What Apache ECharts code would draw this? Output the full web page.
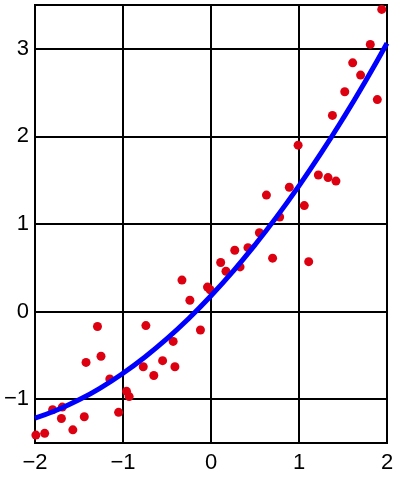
<!DOCTYPE html><html><head><meta charset="utf-8"><script src="https://cdn.jsdelivr.net/npm/echarts@6/dist/echarts.min.js"></script></head><body style="margin:0;background:#fff"><div id="c" style="width:400px;height:480px"></div><script>
const pointsX=[-1.99,-1.89,-1.80,-1.69,-1.70,-1.57,-1.44,-1.42,-1.29,-1.25,-1.15,-1.05,-0.96,-0.93,-0.77,-0.74,-0.65,-0.55,-0.41,-0.43,-0.12,-0.33,-0.24,-0.04,-0.01,0.11,0.17,0.27,0.33,0.42,0.55,0.63,0.70,0.78,0.89,0.99,1.06,1.11,1.22,1.33,1.42,1.38,1.52,1.61,1.70,1.81,1.89,1.94];
const pointsY=[-1.41,-1.39,-1.12,-1.09,-1.22,-1.35,-1.20,-0.58,-0.17,-0.51,-0.77,-1.15,-0.91,-0.97,-0.63,-0.16,-0.73,-0.56,-0.63,-0.34,-0.21,0.36,0.13,0.28,0.25,0.56,0.46,0.70,0.51,0.73,0.90,1.33,0.61,1.08,1.42,1.90,1.21,0.57,1.56,1.53,1.49,2.24,2.51,2.84,2.70,3.05,2.42,3.45];
const curveX=[-2,-1.75,-1.5,-1.25,-1,-0.75,-0.5,-0.25,0,0.25,0.5,0.75,1,1.25,1.5,1.75,2];
const curveY=[-1.216,-1.123,-1.007,-0.867,-0.704,-0.518,-0.309,-0.076,0.18,0.459,0.762,1.087,1.436,1.808,2.204,2.622,3.064];
const xTicks=[-2,-1,0,1,2];
const yTicks=[-1,0,1,2,3];
const fmt=v=>String(v).replace('-','\u2212');
const ax={type:'value',axisLine:{lineStyle:{color:'#000',width:2}},axisTick:{show:true,length:5,lineStyle:{color:'#000',width:2}},splitLine:{show:true,lineStyle:{color:'#000',width:2}},axisLabel:{color:'#000',fontSize:22,fontFamily:'Liberation Sans',formatter:fmt}};
const chart=echarts.init(document.getElementById('c'));
chart.setOption({animation:false,
grid:{left:35,right:13,top:5,bottom:37,show:true,borderColor:'#000',borderWidth:2},
xAxis:Object.assign({},ax,{min:-2,max:2,interval:1,axisLabel:Object.assign({},ax.axisLabel,{margin:9})}),
yAxis:Object.assign({},ax,{min:-1.5,max:3.5,axisLabel:Object.assign({},ax.axisLabel,{customValues:yTicks,margin:6}),axisTick:Object.assign({},ax.axisTick,{customValues:yTicks})}),
series:[
{type:'scatter',data:pointsX.map((x,i)=>[x,pointsY[i]]),symbolSize:9,itemStyle:{color:'#dd0011',opacity:1},z:2},
{type:'line',data:curveX.map((x,i)=>[x,curveY[i]]),smooth:true,showSymbol:false,lineStyle:{color:'#0000ff',width:5},z:3}
]});
</script></body></html>
